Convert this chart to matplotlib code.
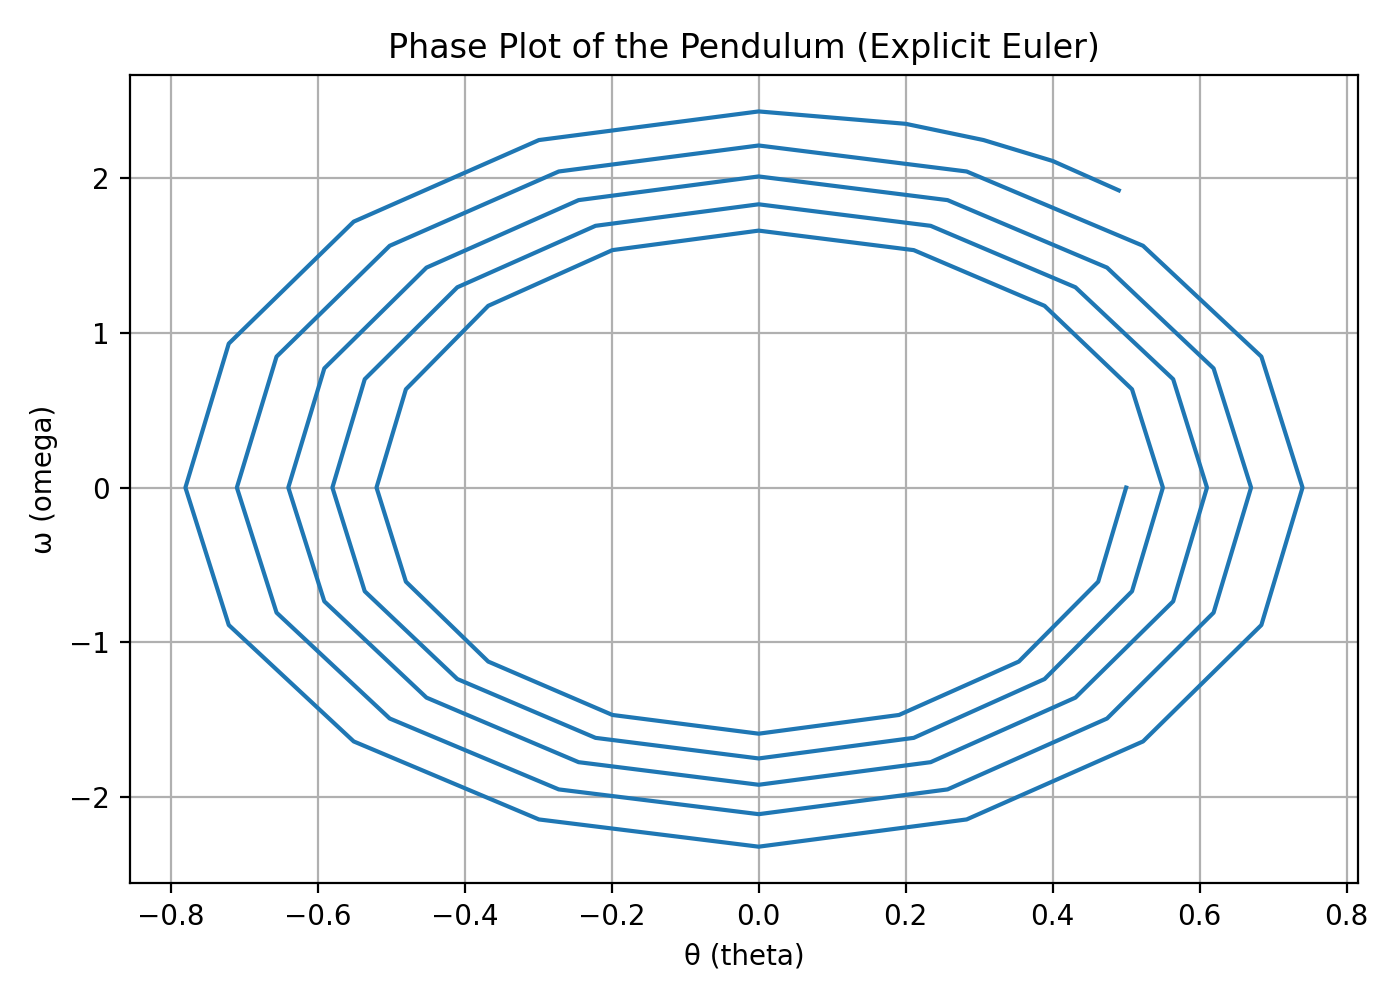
import matplotlib
matplotlib.use("Agg")
import matplotlib.pyplot as plt

# points read along the spiral trajectory (theta, omega)
theta = [0.50, 0.462, 0.354, 0.191, 0.0,
         -0.199, -0.368, -0.480, -0.52,
         -0.480, -0.368, -0.199, 0.0,
         0.211, 0.389, 0.508, 0.55,
         0.508, 0.389, 0.211, 0.0,
         -0.222, -0.410, -0.536, -0.58,
         -0.536, -0.410, -0.222, 0.0,
         0.234, 0.431, 0.564, 0.61,
         0.564, 0.431, 0.234, 0.0,
         -0.245, -0.452, -0.591, -0.64,
         -0.591, -0.452, -0.245, 0.0,
         0.257, 0.474, 0.619, 0.67,
         0.619, 0.474, 0.257, 0.0,
         -0.272, -0.502, -0.656, -0.71,
         -0.656, -0.502, -0.272, 0.0,
         0.283, 0.523, 0.684, 0.74,
         0.684, 0.523, 0.283, 0.0,
         -0.299, -0.551, -0.721, -0.78,
         -0.721, -0.551, -0.299, 0.0,
         0.20, 0.306, 0.40, 0.49]
omega = [0.0, -0.608, -1.124, -1.469, -1.59,
         -1.469, -1.124, -0.608, 0.0,
         0.635, 1.174, 1.534, 1.66,
         1.534, 1.174, 0.635, 0.0,
         -0.670, -1.237, -1.617, -1.75,
         -1.617, -1.237, -0.670, 0.0,
         0.700, 1.294, 1.691, 1.83,
         1.691, 1.294, 0.700, 0.0,
         -0.735, -1.357, -1.774, -1.92,
         -1.774, -1.357, -0.735, 0.0,
         0.770, 1.421, 1.857, 2.01,
         1.857, 1.421, 0.770, 0.0,
         -0.808, -1.492, -1.950, -2.11,
         -1.950, -1.492, -0.808, 0.0,
         0.846, 1.562, 2.042, 2.21,
         2.042, 1.562, 0.846, 0.0,
         -0.888, -1.640, -2.144, -2.32,
         -2.144, -1.640, -0.888, 0.0,
         0.930, 1.718, 2.245, 2.43,
         2.35, 2.245, 2.11, 1.92]

fig, ax = plt.subplots(figsize=(7, 5))
ax.plot(theta, omega, color="#1f77b4")
ax.set_title("Phase Plot of the Pendulum (Explicit Euler)")
ax.set_xlabel("θ (theta)")
ax.set_ylabel("ω (omega)")
ax.grid(True)
plt.tight_layout()
fig.savefig("out.png", dpi=200)
